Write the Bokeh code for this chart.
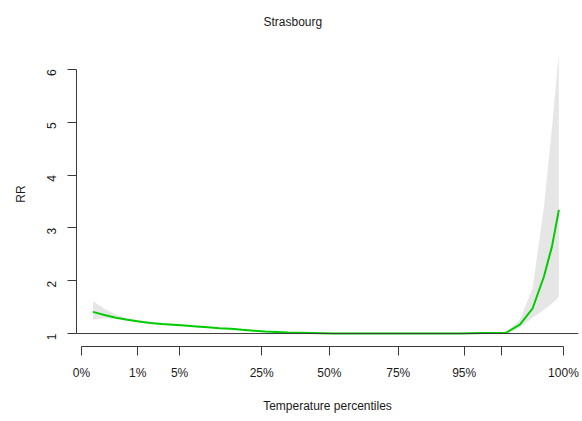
import math
from bokeh.plotting import figure
from bokeh.models import Range1d, FixedTicker, Span, ColumnDataSource
from bokeh.embed import file_html
from bokeh.resources import INLINE

# Temperature (deg C) and relative risk
temp = [-12.0, -11.0, -10.0, -9.0, -8.0, -7.0, -6.0, -5.0, -4.0, -3.0, -2.0, -1.0,
        0.0, 1.0, 2.0, 3.0, 4.0, 5.0, 6.0, 7.0, 8.0, 9.0, 10.0, 12.0, 14.0, 16.0,
        18.0, 20.0, 21.0, 22.0, 23.0, 24.0, 25.2, 26.3, 27.3, 28.0, 28.6]
rr = [1.41, 1.35, 1.30, 1.26, 1.23, 1.20, 1.18, 1.165, 1.15, 1.135, 1.12, 1.10,
      1.09, 1.07, 1.055, 1.04, 1.03, 1.02, 1.015, 1.01, 1.005, 1.0, 1.0, 1.0, 1.0, 1.0,
      1.0, 1.0, 1.005, 1.01, 1.01, 1.015, 1.17, 1.47, 2.08, 2.65, 3.34]
rr_low = [1.26, 1.29, 1.28, 1.245, 1.215, 1.19, 1.17, 1.155, 1.14, 1.125, 1.11, 1.09,
          1.08, 1.06, 1.045, 1.03, 1.02, 1.01, 1.005, 1.0, 0.998, 0.995, 0.995, 0.995, 0.995, 0.995,
          0.995, 0.995, 0.998, 1.0, 1.0, 1.0, 1.11, 1.30, 1.45, 1.57, 1.69]
rr_high = [1.61, 1.47, 1.36, 1.29, 1.25, 1.215, 1.195, 1.18, 1.165, 1.15, 1.135, 1.115,
           1.10, 1.08, 1.065, 1.05, 1.04, 1.03, 1.025, 1.02, 1.015, 1.005, 1.005, 1.005, 1.005, 1.005,
           1.005, 1.01, 1.015, 1.02, 1.02, 1.03, 1.26, 1.85, 3.4, 4.9, 6.3]

# Percentile ticks (temperature positions) and their labels
pct_temp = [-13.0, -8.1, -4.45, 2.7, 8.6, 14.6, 20.35, 23.6, 29.0]
pct_labels = ["0%", "1%", "5%", "25%", "50%", "75%", "95%", "", "100%"]
y_ticks = [1, 2, 3, 4, 5, 6]

FONT = "Liberation Sans"
TXT = "#1a1a1a"
AX = "#3a3a3a"

p = figure(width=582, height=421,
           x_range=Range1d(-13.436, 30.31), y_range=Range1d(0.7547, 6.528),
           min_border_left=76, min_border_right=4, min_border_top=40, min_border_bottom=75,
           output_backend="svg", toolbar_location=None)

p.title.text = "Strasbourg"
p.title.text_font = FONT
p.title.text_font_size = "12px"
p.title.text_font_style = "normal"
p.title.text_color = TXT
p.title.align = "left"
p.title.offset = 187
p.title.standoff = 25

p.xgrid.visible = False
p.ygrid.visible = False
p.outline_line_color = None
p.background_fill_color = "white"
p.border_fill_color = "white"

src = ColumnDataSource(dict(t=temp, rr=rr, lo=rr_low, hi=rr_high))
p.varea(x="t", y1="lo", y2="hi", source=src, fill_color="#e6e6e6", fill_alpha=1.0)
p.add_layout(Span(location=1, dimension="width", line_color=AX, line_width=1))
p.line(x="t", y="rr", source=src, line_color="#00cc00", line_width=2)

xa = p.xaxis[0]
xa.ticker = FixedTicker(ticks=pct_temp)
xa.major_label_overrides = {t: l for t, l in zip(pct_temp, pct_labels)}
xa.bounds = (pct_temp[0], pct_temp[-1])
xa.minor_tick_line_color = None
xa.major_tick_in = 0
xa.major_tick_out = 9
xa.major_label_standoff = 10
xa.axis_line_color = AX
xa.major_tick_line_color = AX
xa.major_label_text_font = FONT
xa.major_label_text_font_size = "12px"
xa.major_label_text_color = TXT
xa.axis_label = "Temperature percentiles"
xa.axis_label_text_font = FONT
xa.axis_label_text_font_size = "12px"
xa.axis_label_text_font_style = "normal"
xa.axis_label_text_color = TXT
xa.axis_label_standoff = 16

ya = p.yaxis[0]
ya.ticker = FixedTicker(ticks=y_ticks)
ya.bounds = (1, 6)
ya.minor_tick_line_color = None
ya.major_tick_in = 0
ya.major_tick_out = 9
ya.major_label_standoff = 16
ya.major_label_orientation = math.pi / 2
ya.axis_line_color = AX
ya.major_tick_line_color = AX
ya.major_label_text_font = FONT
ya.major_label_text_font_size = "12px"
ya.major_label_text_color = TXT
ya.axis_label = "RR"
ya.axis_label_text_font = FONT
ya.axis_label_text_font_size = "12px"
ya.axis_label_text_font_style = "normal"
ya.axis_label_text_color = TXT
ya.axis_label_standoff = 12

open("out.html", "w").write(file_html(p, INLINE))
